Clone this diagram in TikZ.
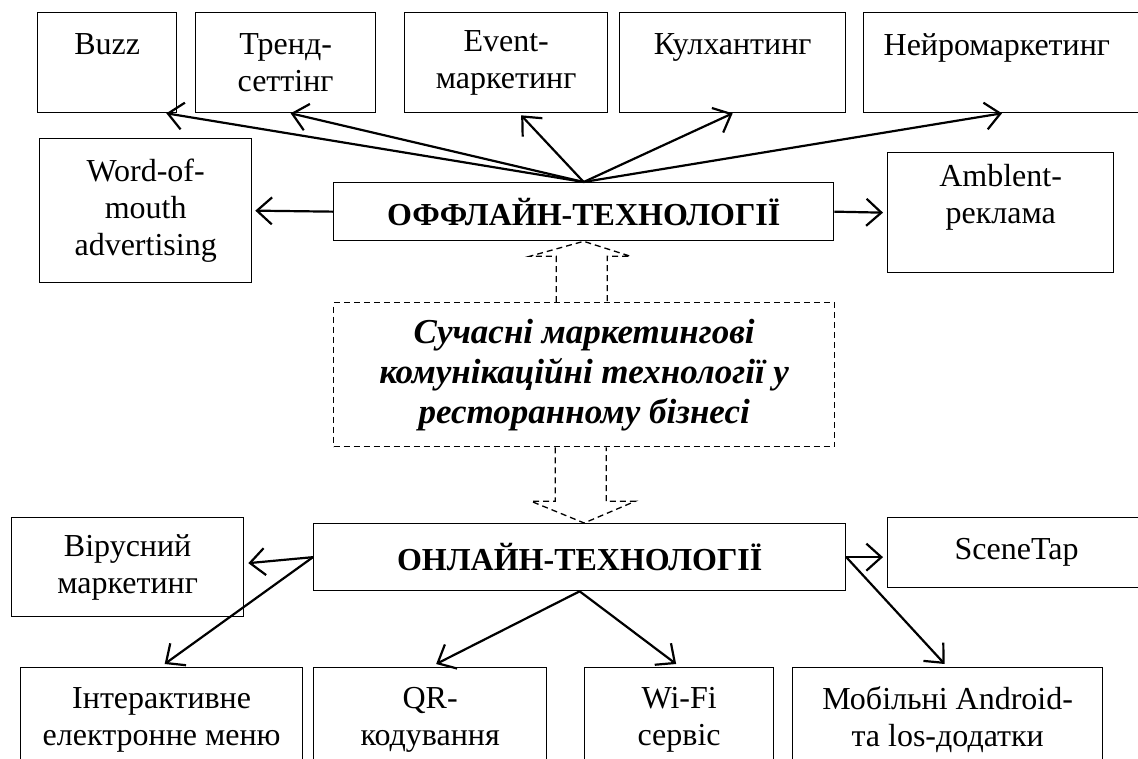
\documentclass[tikz,border=0pt]{standalone}
\usepackage{fontspec}
\setmainfont{Liberation Serif}
\usetikzlibrary{arrows.meta,calc}
\tikzset{
	box/.style={draw,line width=1.3pt,anchor=north west,align=center,inner sep=2pt,font=\fontsize{32}{37}\selectfont},
	hub/.style={box,font=\bfseries\fontsize{32}{37}\selectfont},
	topic/.style={box,dash pattern=on 6pt off 4pt,font=\bfseries\itshape\fontsize{35}{40}\selectfont},
	link/.style={line width=2.2pt,-{Straight Barb[length=15pt,width=27pt]}},
	bigarrow/.style={dash pattern=on 6pt off 4pt,line width=1.3pt},
}
\begin{document}
\begin{tikzpicture}[x=1pt,y=-1pt]
	\useasboundingbox (0,0) rectangle (1138,758);
	% offline
	\node[box,minimum width=139,minimum height=100] (buzz) at (37,12) {Buzz\\~};
	\node[box,minimum width=180,minimum height=100] (trend) at (195,12) {Тренд-\\сеттінг};
	\node[box,minimum width=203,minimum height=100] (event) at (404,12) {Event-\\маркетинг};
	\node[box,minimum width=226,minimum height=100] (kulh) at (619,12) {Кулхантинг\\~};
	\node[box,minimum height=100,text width=247pt,align=left,inner xsep=20pt] (neuro) at (863,12) {Нейромаркетинг\\~};
	\node[box,minimum width=212,minimum height=144] (wom) at (39,138) {Word-of-\\mouth\\advertising};
	\node[hub,minimum width=500,minimum height=58] (off) at (333,182) {ОФФЛАЙН-ТЕХНОЛОГІЇ};
	\node[box,minimum width=226,minimum height=120] (amb) at (887,152) {Amblent-\\реклама\\~};
	% centre
	\node[topic,minimum width=501,minimum height=144] (core) at (333,302) {Сучасні маркетингові\\комунікаційні технології у\\ресторанному бізнесі};
	% online
	\node[hub,minimum width=532,minimum height=67] (on) at (313,523) {ОНЛАЙН-ТЕХНОЛОГІЇ};
	\node[box,minimum width=232,minimum height=99] (vir) at (11,517) {Вірусний\\маркетинг};
	\node[box,minimum width=258,minimum height=70] (scene) at (887,517) {SceneTap};
	\node[box,minimum width=282,minimum height=104] (inter) at (20,667) {Інтерактивне\\електронне меню};
	\node[box,minimum width=233,minimum height=104] (qr) at (313,667) {QR-\\кодування};
	\node[box,minimum width=189,minimum height=104] (wifi) at (584,667) {Wi-Fi\\сервіс};
	\node[box,minimum width=310,minimum height=104] (mob) at (792,667) {Мобільні Android-\\та los-додатки};

	\draw[link] (off.north) -- ($(buzz.south east)+(-11,0)$);
	\draw[link] (off.north) -- ($(trend.south)+(5,0)$);
	\draw[link] (off.north) -- ($(event.south)+(15,2)$);
	\draw[link] (off.north) -- (kulh.south);
	\draw[link] (off.north) -- ($(neuro.south west)+(139,0)$);
	\draw[link] (off.west) -- ([xshift=3pt]wom.east);
	\draw[link] (off.east) -- ([xshift=-4pt]amb.west);

	\draw[link] (on.west) -- ($(vir.east)+(4,-4)$);
	\draw[link] (on.west) -- ($(inter.north)+(3,-3)$);
	\draw[link] (on.south) -- ($(qr.north)+(6,-3)$);
	\draw[link] (on.south) -- ($(wifi.north)+(-3,-3)$);
	\draw[link] (on.east) -- ([xshift=-4pt]on.east -| scene.west);
	\draw[link] (on.east) -- ($(mob.north)+(-3,-3)$);

	% hollow arrows
	\draw[bigarrow] ($(core.north)+(-28,0)$) |- ($(off.south)+(-54,15)$) -- (off.south) -- ($(off.south)+(47,15)$) -| ($(core.north)+(23,0)$);
	\draw[bigarrow] ($(core.south)+(-29,0)$) |- ($(core.south)+(-53,54)$) -- (on.north -| core.south) -- ($(core.south)+(51,54)$) -| ($(core.south)+(22,0)$);
\end{tikzpicture}
\end{document}
